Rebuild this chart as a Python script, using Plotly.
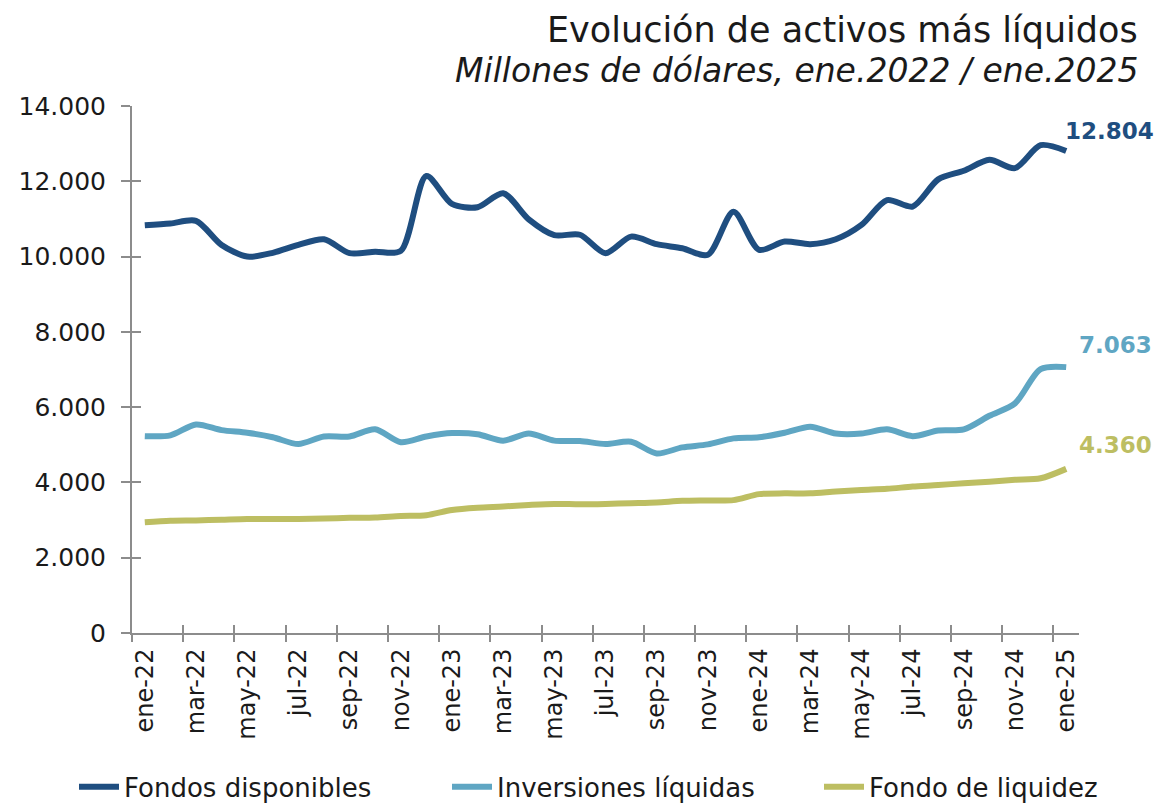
import plotly.graph_objects as go

months = ["ene", "feb", "mar", "abr", "may", "jun", "jul", "ago", "sep", "oct", "nov", "dic"]
categories = [f"{months[i % 12]}-{22 + i // 12}" for i in range(37)]

fondos_disponibles = [10830, 10880, 10950, 10310, 10000, 10100, 10310, 10460, 10090, 10130,
                      10150, 12140, 11400, 11310, 11680, 10990, 10570, 10580, 10090, 10530,
                      10330, 10220, 10050, 11190, 10180, 10400, 10330, 10460, 10840, 11500,
                      11330, 12050, 12280, 12570, 12350, 12960, 12804]
inversiones_liquidas = [5230, 5250, 5540, 5390, 5320, 5200, 5020, 5220, 5220, 5410,
                        5070, 5220, 5310, 5280, 5110, 5300, 5110, 5100, 5020, 5080,
                        4770, 4930, 5010, 5170, 5200, 5320, 5480, 5300, 5300, 5410,
                        5230, 5380, 5410, 5770, 6100, 7010, 7063]
fondo_liquidez = [2940, 2980, 2990, 3010, 3030, 3030, 3030, 3040, 3060, 3070,
                  3110, 3130, 3270, 3330, 3360, 3400, 3430, 3420, 3430, 3450,
                  3470, 3510, 3520, 3530, 3690, 3710, 3710, 3760, 3800, 3830,
                  3890, 3930, 3980, 4020, 4070, 4110, 4360]

series_names = ["Fondos disponibles", "Inversiones líquidas", "Fondo de liquidez"]
colors = ["#1F4E80", "#5FA6C3", "#BDBE62"]
last_labels = ["12.804", "7.063", "4.360"]

FONT = "DejaVu Sans"
TXT = "#1a1a1a"
x = list(range(len(categories)))
legend_ids = ["legend", "legend2", "legend3"]
legend_x = [74, 447, 819]

fig = go.Figure()
for name, vals, col, lg in zip(series_names, [fondos_disponibles, inversiones_liquidas, fondo_liquidez],
                               colors, legend_ids):
    fig.add_trace(go.Scatter(x=x, y=vals, name=name, mode="lines", legend=lg,
                             line=dict(color=col, width=6, shape="spline", smoothing=0.8),
                             hoverinfo="skip"))

label_shift = [(-3, 20), (11, 22), (11, 24)]
for vals, col, txt, (dx, dy) in zip([fondos_disponibles, inversiones_liquidas, fondo_liquidez],
                                     colors, last_labels, label_shift):
    fig.add_annotation(x=x[-1], y=vals[-1], text=f"<b>{txt}</b>", showarrow=False,
                       xanchor="left", yanchor="middle", xshift=dx, yshift=dy,
                       font=dict(family=FONT, size=23, color=col))

# titles
fig.add_annotation(xref="paper", yref="paper", x=1.0, y=1.0, xanchor="right", yanchor="middle",
                   text="Evolución de activos más líquidos", showarrow=False, yshift=76, xshift=61,
                   font=dict(family=FONT, size=35, color=TXT))
fig.add_annotation(xref="paper", yref="paper", x=1.0, y=1.0, xanchor="right", yanchor="middle",
                   text="<i>Millones de dólares, ene.2022 / ene.2025</i>", showarrow=False, yshift=36, xshift=61,
                   font=dict(family=FONT, size=33, color=TXT))

axis_col = "#8C8C8C"
xr = [-0.5, len(categories) - 0.5]
boundaries = [i - 0.5 for i in range(0, len(categories), 2)]

legend_common = dict(orientation="h", xref="container", yref="container", xanchor="left",
                     y=0.02, yanchor="middle", font=dict(family=FONT, size=26, color=TXT),
                     itemwidth=40, bgcolor="rgba(0,0,0,0)")

fig.update_layout(
    width=1158, height=803,
    margin=dict(l=132, r=79, t=106, b=170),
    plot_bgcolor="white", paper_bgcolor="white",
    separators=",.",
    font=dict(family=FONT, color=TXT),
    showlegend=True,
    legend=dict(x=legend_x[0] / 1158, **legend_common),
    legend2=dict(x=legend_x[1] / 1158, **legend_common),
    legend3=dict(x=legend_x[2] / 1158, **legend_common),
    xaxis=dict(range=xr, tickvals=x[::2], ticktext=categories[::2], tickangle=-90,
               ticks="", showgrid=False, zeroline=False, showline=True, linecolor=axis_col,
               linewidth=2, tickfont=dict(family=FONT, size=24, color=TXT), ticklabelstandoff=4),
    xaxis2=dict(range=xr, overlaying="x", anchor="y", side="bottom", tickvals=boundaries,
                ticks="outside", ticklen=8, tickwidth=2, tickcolor=axis_col, showticklabels=False,
                showgrid=False, zeroline=False, showline=False),
    xaxis3=dict(range=xr, overlaying="x", anchor="y", side="bottom", tickvals=boundaries,
                ticks="inside", ticklen=8, tickwidth=2, tickcolor=axis_col, showticklabels=False,
                showgrid=False, zeroline=False, showline=False),
    yaxis=dict(range=[0, 14000], tickvals=list(range(0, 14001, 2000)), tickformat=",",
               ticks="outside", ticklen=9, tickwidth=2, tickcolor=axis_col,
               showgrid=False, zeroline=False, showline=True, linecolor=axis_col, linewidth=2,
               tickfont=dict(family=FONT, size=25, color=TXT), ticklabelstandoff=10),
    yaxis2=dict(range=[0, 14000], overlaying="y", anchor="x", side="left",
                tickvals=list(range(0, 14001, 2000)), ticks="inside", ticklen=9, tickwidth=2,
                tickcolor=axis_col, showticklabels=False, showgrid=False, zeroline=False, showline=False),
)

# invisible helper traces so overlay axes render
fig.add_trace(go.Scatter(x=[xr[0]], y=[0], xaxis="x2", yaxis="y", mode="markers",
                         marker=dict(opacity=0), showlegend=False, hoverinfo="skip"))
fig.add_trace(go.Scatter(x=[xr[0]], y=[0], xaxis="x3", yaxis="y2", mode="markers",
                         marker=dict(opacity=0), showlegend=False, hoverinfo="skip"))

fig.write_html("out.html", config={"displayModeBar": False},
               post_script="document.body.style.margin='0';")
